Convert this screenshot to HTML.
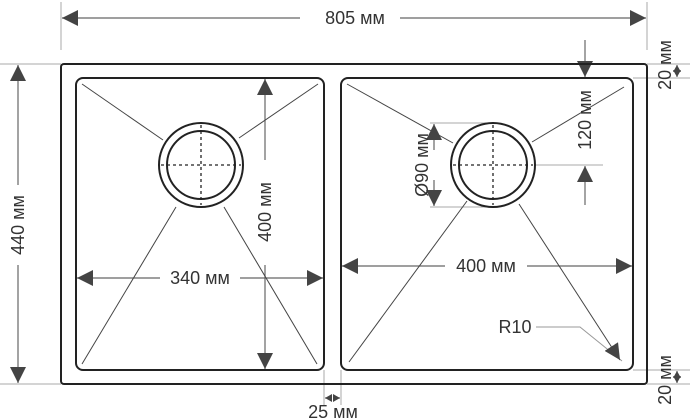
<!DOCTYPE html>
<html><head><style>html,body{margin:0;padding:0;background:#fff}svg{display:block}</style></head><body>
<svg width="699" height="420" viewBox="0 0 699 420" xmlns="http://www.w3.org/2000/svg" font-family="Liberation Sans, sans-serif">
<defs>
<marker id="s" markerWidth="7" markerHeight="8" refX="7" refY="4" orient="auto" markerUnits="userSpaceOnUse"><path d="M0,0 L7,4 L0,8 z" fill="#444"/></marker>
<marker id="b" markerWidth="16" markerHeight="16" refX="16" refY="8" orient="auto" markerUnits="userSpaceOnUse"><path d="M0,0 L16,8 L0,16 z" fill="#444"/></marker>
</defs>
<g stroke="#aaa" stroke-width="1" fill="none">
<line x1="61" y1="2" x2="61" y2="50"/><line x1="647" y1="2" x2="647" y2="50"/>
<line x1="0" y1="64" x2="61" y2="64"/><line x1="0" y1="384" x2="61" y2="384"/>
<line x1="647" y1="64" x2="690" y2="64"/><line x1="633" y1="78" x2="690" y2="78"/>
<line x1="633" y1="370" x2="690" y2="370"/><line x1="647" y1="384" x2="690" y2="384"/>
<line x1="324" y1="370" x2="324" y2="405"/><line x1="341" y1="370" x2="341" y2="405"/>
<line x1="430" y1="123" x2="490" y2="123"/><line x1="430" y1="207" x2="490" y2="207"/>
<line x1="535" y1="165" x2="603" y2="165"/>
</g>
<g stroke="#666" stroke-width="1.2" fill="none">
<line x1="300" y1="18" x2="62" y2="18" marker-end="url(#b)"/>
<line x1="400" y1="18" x2="646" y2="18" marker-end="url(#b)"/>
<line x1="18" y1="185" x2="18" y2="65" marker-end="url(#b)"/>
<line x1="18" y1="265" x2="18" y2="383" marker-end="url(#b)"/>
<line x1="265" y1="160" x2="265" y2="79" marker-end="url(#b)"/>
<line x1="265" y1="265" x2="265" y2="369" marker-end="url(#b)"/>
<line x1="160" y1="278" x2="77" y2="278" marker-end="url(#b)"/>
<line x1="240" y1="278" x2="323" y2="278" marker-end="url(#b)"/>
<line x1="445" y1="266" x2="342" y2="266" marker-end="url(#b)"/>
<line x1="527" y1="266" x2="632" y2="266" marker-end="url(#b)"/>
<line x1="434" y1="150" x2="434" y2="124" marker-end="url(#b)"/>
<line x1="434" y1="180" x2="434" y2="206" marker-end="url(#b)"/>
<line x1="585" y1="40" x2="585" y2="77" marker-end="url(#b)"/>
<line x1="585" y1="205" x2="585" y2="166" marker-end="url(#b)"/>
<line x1="332" y1="398" x2="325" y2="398" marker-end="url(#s)"/>
<line x1="333" y1="398" x2="340" y2="398" marker-end="url(#s)"/>
<line x1="677" y1="71" x2="677" y2="65" marker-end="url(#s)"/>
<line x1="677" y1="71" x2="677" y2="77" marker-end="url(#s)"/>
<line x1="677" y1="377" x2="677" y2="371" marker-end="url(#s)"/>
<line x1="677" y1="377" x2="677" y2="383" marker-end="url(#s)"/>
</g>
<path d="M536,327 L580,327 L622,361" stroke="#999" fill="none"/>
<g stroke="#222" fill="none">
<rect x="61" y="64" width="586" height="320" rx="3" stroke-width="2"/>
<rect x="76" y="78" width="248" height="292" rx="7" stroke-width="2"/>
<rect x="341" y="78" width="292" height="292" rx="7" stroke-width="2"/>
<circle cx="201" cy="165" r="42" stroke-width="2"/><circle cx="201" cy="165" r="34" stroke-width="2"/>
<circle cx="493" cy="165" r="42" stroke-width="2"/><circle cx="493" cy="165" r="34" stroke-width="2"/>
<g stroke-dasharray="3,3" stroke-width="1.3">
<line x1="201" y1="125" x2="201" y2="205"/><line x1="161" y1="165" x2="241" y2="165"/>
<line x1="493" y1="125" x2="493" y2="205"/><line x1="453" y1="165" x2="533" y2="165"/>
</g>
<g stroke="#444" stroke-width="1">
<line x1="82" y1="84" x2="163" y2="140"/><line x1="318" y1="84" x2="239" y2="138"/>
<line x1="82" y1="364" x2="176" y2="207"/><line x1="317" y1="364" x2="224" y2="207"/>
<line x1="347" y1="84" x2="453" y2="143"/><line x1="624" y1="87" x2="532" y2="142"/>
<line x1="349" y1="362" x2="467" y2="201"/><line x1="519" y1="204" x2="620" y2="360" marker-end="url(#b)"/>
</g>
</g>
<g fill="#333" font-size="18">
<text x="355" y="24" text-anchor="middle">805 мм</text>
<text x="200" y="284" text-anchor="middle">340 мм</text>
<text x="486" y="272" text-anchor="middle">400 мм</text>
<text x="515" y="333" text-anchor="middle">R10</text>
<text x="333" y="418" text-anchor="middle">25 мм</text>
<text transform="translate(24,225) rotate(-90)" text-anchor="middle">440 мм</text>
<text transform="translate(271,212) rotate(-90)" text-anchor="middle">400 мм</text>
<text transform="translate(428,165) rotate(-90)" text-anchor="middle">Ø90 мм</text>
<text transform="translate(591,120) rotate(-90)" text-anchor="middle">120 мм</text>
<text transform="translate(671,65) rotate(-90)" text-anchor="middle">20 мм</text>
<text transform="translate(671,380) rotate(-90)" text-anchor="middle">20 мм</text>
</g>
</svg>
</body></html>
